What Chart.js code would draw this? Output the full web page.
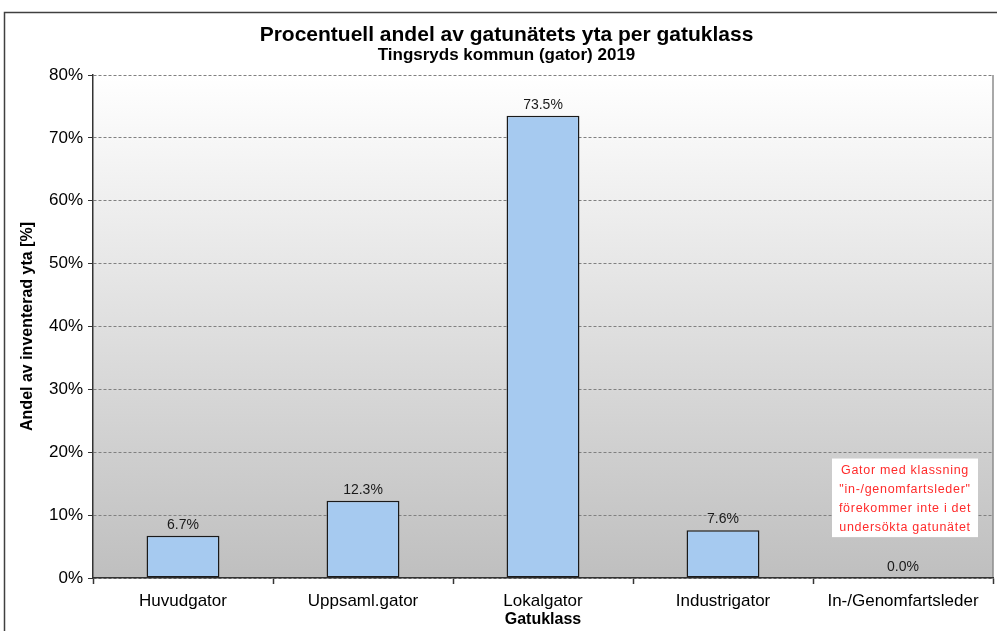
<!DOCTYPE html>
<html>
<head>
<meta charset="utf-8">
<script src="https://cdn.jsdelivr.net/npm/chart.js@4/dist/chart.umd.min.js"></script>
<style>
  html, body { margin: 0; padding: 0; background: #fff; }
  #wrap { width: 997px; height: 631px; }
</style>
</head>
<body>
<div id="wrap"><canvas id="myChart" width="997" height="631"></canvas></div>
<script>
const categories = ['Huvudgator', 'Uppsaml.gator', 'Lokalgator', 'Industrigator', 'In-/Genomfartsleder']
const shares = [6.7, 12.3, 73.5, 7.6, 0.0]
const yTicks = [0, 10, 20, 30, 40, 50, 60, 70, 80]
const noteLines = ['Gator med klassning', '"in-/genomfartsleder"', 'förekommer inte i det', 'undersökta gatunätet']

const font = 'Arial, "Liberation Sans", sans-serif'

// frame round the whole figure + gradient plot background
const backdrop = {
  id: 'backdrop',
  beforeDraw: (chart) => {
    const { ctx, chartArea: a } = chart
    ctx.save()
    ctx.strokeStyle = '#404040'
    ctx.lineWidth = 1.5
    ctx.strokeRect(4.5, 12.5, 1200, 1000)
    let g = ctx.createLinearGradient(0, a.top, 0, a.bottom)
    g.addColorStop(0, '#ffffff')
    g.addColorStop(1, '#bfbfbf')
    ctx.fillStyle = g
    ctx.fillRect(a.left, a.top, a.right - a.left, a.bottom - a.top)
    ctx.strokeStyle = '#8c8c8c'
    ctx.lineWidth = 1.5
    ctx.beginPath()
    ctx.moveTo(a.right, a.top)
    ctx.lineTo(a.right, a.bottom)
    ctx.stroke()
    ctx.restore()
  }
}

// value labels on bars + note box
const labels = {
  id: 'labels',
  afterDatasetsDraw: (chart) => {
    const { ctx } = chart
    const meta = chart.getDatasetMeta(0)
    ctx.save()
    ctx.fillStyle = '#1a1a1a'
    ctx.font = '14px ' + font
    ctx.textAlign = 'center'
    ctx.textBaseline = 'alphabetic'
    meta.data.forEach((bar, i) => {
      ctx.fillText(shares[i].toFixed(1) + '%', bar.x, bar.y - 7)
    })

    const xs = chart.scales.x
    const ys = chart.scales.y
    const cx = xs.getPixelForValue(4) + 2
    const top = ys.getPixelForValue(19)
    const bottom = ys.getPixelForValue(6.5)
    const w = 146
    ctx.fillStyle = '#ffffff'
    ctx.fillRect(cx - w / 2, top, w, bottom - top)
    ctx.fillStyle = '#ff2b2b'
    ctx.font = '12.5px ' + font
    ctx.letterSpacing = '0.7px'
    ctx.textBaseline = 'middle'
    noteLines.forEach((line, i) => {
      ctx.fillText(line, cx, top + 12 + i * 19)
    })
    ctx.restore()
  }
}

let ctx = document.getElementById('myChart').getContext('2d')
let chart = new Chart(ctx, {
  type: 'bar',
  data: {
    labels: categories,
    datasets: [{
      data: shares,
      backgroundColor: '#a6caf0',
      borderColor: '#1a1a1a',
      borderWidth: (c) => c.raw === 0 ? 0 : 1.5,
      borderSkipped: false,
      categoryPercentage: 1,
      barPercentage: 0.405,
    }]
  },
  options: {
    responsive: false,
    animation: false,
    layout: { padding: { left: 20, right: 4, top: 0, bottom: 0 } },
    plugins: {
      legend: { display: false },
      tooltip: { enabled: false },
      title: {
        display: true,
        text: 'Procentuell andel av gatunätets yta per gatuklass',
        color: '#000',
        font: { family: font, size: 21, weight: 'bold', lineHeight: 1 },
        padding: { top: 24.5, bottom: 1 }
      },
      subtitle: {
        display: true,
        text: 'Tingsryds kommun (gator) 2019',
        color: '#000',
        font: { family: font, size: 17, weight: 'bold', lineHeight: 1 },
        padding: { top: 0, bottom: 11.5 }
      }
    },
    scales: {
      x: {
        offset: true,
        afterFit: (s) => { s.height = 53 },
        grid: {
          display: true,
          drawOnChartArea: false,
          offset: true,
          tickLength: 6,
          tickColor: '#333',
          tickWidth: 1.5
        },
        border: { display: true, color: '#333', width: 1.5 },
        ticks: {
          color: '#000',
          padding: 7,
          maxRotation: 0,
          autoSkip: false,
          font: { family: font, size: 17 }
        },
        title: {
          display: true,
          text: 'Gatuklass',
          color: '#000',
          font: { family: font, size: 16, weight: 'bold', lineHeight: 1.2 },
          padding: { top: 0, bottom: 2 }
        }
      },
      y: {
        min: 0,
        max: 80,
        afterFit: (s) => { s.width = 73 },
        afterBuildTicks: (s) => { s.ticks = yTicks.map(v => ({ value: v })) },
        grid: {
          color: '#808080',
          lineWidth: 1,
          tickLength: 5,
          tickColor: '#333',
          tickWidth: 1,
          tickBorderDash: [],
        },
        border: { display: true, color: '#333', width: 1.5, dash: [3, 2] },
        ticks: {
          color: '#000',
          padding: 5,
          font: { family: font, size: 17 },
          callback: (v) => v + '%'
        },
        title: {
          display: true,
          text: 'Andel av inventerad yta [%]',
          color: '#000',
          font: { family: font, size: 16, weight: 'bold', lineHeight: 1 },
          padding: { top: 0, bottom: 0 }
        }
      }
    }
  },
  plugins: [backdrop, labels]
})
</script>
</body>
</html>
